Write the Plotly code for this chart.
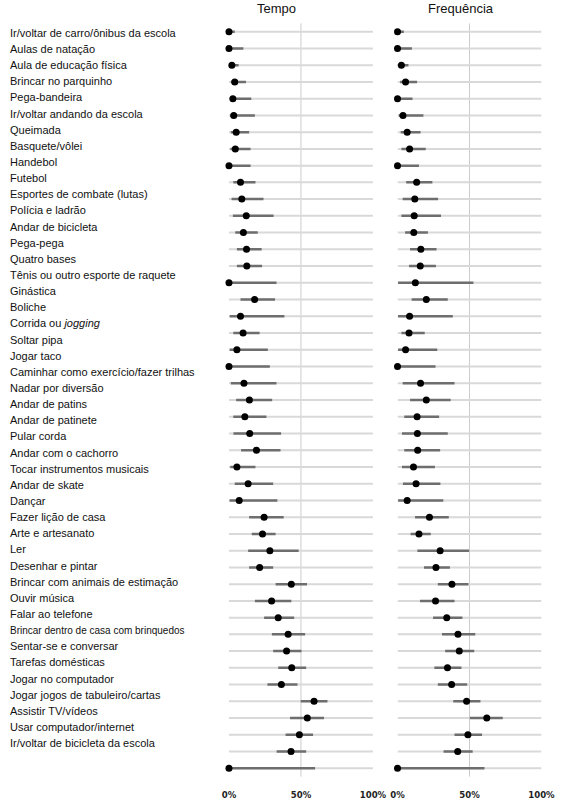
import plotly.graph_objects as go

labels = [
    "Ir/voltar de carro/ônibus da escola", "Aulas de natação", "Aula de educação física",
    "Brincar no parquinho", "Pega-bandeira", "Ir/voltar andando da escola", "Queimada",
    "Basquete/vôlei", "Handebol", "Futebol", "Esportes de combate (lutas)", "Polícia e ladrão",
    "Andar de bicicleta", "Pega-pega", "Quatro bases", "Tênis ou outro esporte de raquete",
    "Ginástica", "Boliche", "Corrida ou jogging", "Soltar pipa", "Jogar taco",
    "Caminhar como exercício/fazer trilhas", "Nadar por diversão", "Andar de patins",
    "Andar de patinete", "Pular corda", "Andar com o cachorro", "Tocar instrumentos musicais",
    "Andar de skate", "Dançar", "Fazer lição de casa", "Arte e artesanato", "Ler",
    "Desenhar e pintar", "Brincar com animais de estimação", "Ouvir música", "Falar ao telefone",
    "Brincar dentro de casa com brinquedos", "Sentar-se e conversar", "Tarefas domésticas",
    "Jogar no computador", "Jogar jogos de tabuleiro/cartas", "Assistir TV/vídeos",
    "Usar computador/internet", "Ir/voltar de bicicleta da escola",
]
# display text for the labels (italics / smaller type as in the source)
label_text = {
    "Corrida ou jogging": "Corrida ou <i>jogging</i>",
    "Brincar dentro de casa com brinquedos": "<span style='font-size:10px'>Brincar dentro de casa com brinquedos</span>",
}

tempo_med = [0, 0, 2, 4, 2.7, 3.3, 5, 4.4, 0, 8, 8.9, 12, 10, 12.2, 12.4, 0, 17.8, 8, 9.8, 5.5, 0,
             10.4, 14.2, 11, 14.4, 19.1, 5.5, 13.3, 7.1, 24.4, 23.3, 28.4, 21.3, 43.3, 29.6, 34.2,
             41.1, 40, 43.6, 36.4, 59.1, 54.4, 48.9, 43.1, 0]
tempo_lo = [0, 0, 0, 1.3, 1, 1, 1.3, 1, 0, 3, 1.8, 2.7, 4.4, 5.5, 5.5, 0, 8, 0.5, 3, 0.5, 0,
            1.3, 5, 3, 3.1, 8.4, 0.9, 4, 0.4, 14, 15.8, 13.3, 14, 32.4, 18, 24.4,
            29.8, 30.7, 34.2, 26.7, 49.8, 42.4, 39.3, 33.1, 0]
tempo_hi = [4, 10, 6.7, 11.8, 15.5, 18, 14, 15, 15, 18.4, 24, 31, 20, 22.7, 23, 33, 32, 38.5, 21.3,
            27, 28.4, 33, 30, 26, 36.2, 35.8, 18.4, 30.7, 33.6, 38, 32.4, 48.4, 30.7, 54.2, 43.3,
            45.3, 52.9, 50.4, 53.6, 47.6, 68.4, 66, 58.4, 53.6, 59.8]

freq_med = [0, 0, 2.7, 5.6, 0, 3.8, 6.7, 8.4, 0, 13.3, 12, 11.6, 11.3, 16.2, 15.8, 12.4, 20, 8.4,
            8, 5.6, 0, 16, 20, 13.6, 13.8, 14, 11.1, 12.9, 6.7, 22.2, 14.9, 29.6, 26.7, 37.8,
            26.4, 34.2, 42, 42.9, 34.7, 37.6, 48, 62, 48.9, 41.8, 0]
freq_lo = [0, 0, 0, 1.8, 0, 0.9, 2.2, 2.7, 0, 6, 3.6, 2.7, 5.3, 8.7, 8, 0.4, 9.8, 0.4, 2.7, 0.4,
           0, 3.6, 8.7, 4.7, 3.1, 4.7, 3.1, 3.8, 0.4, 12.2, 9.1, 13.8, 18.4, 28, 15.6, 24.7,
           30.9, 33.1, 25.6, 28, 38.7, 50.2, 39.6, 32, 0]
freq_hi = [4.4, 10, 7.6, 13.6, 10.4, 18, 16, 19.6, 14.9, 24.2, 28.2, 30.2, 21.1, 27.1, 26.7, 52.7,
           34.9, 38.4, 18.9, 27.6, 26.4, 39.6, 36.9, 28.9, 34.9, 29.6, 26, 29.8, 31.8, 35.6, 23.1,
           49.8, 36.4, 49.3, 39.6, 45.1, 54, 53.3, 44.4, 48.4, 57.6, 73.1, 58.7, 52.2, 60.4]

panel_titles = ["Tempo", "Frequência"]
x_ticks = [0, 50, 100]
x_ticktext = ["0%", "50%", "100%"]

W, H = 568, 800
n = len(labels)

fig = go.Figure()


def seg(lo, hi):
    xs, ys = [], []
    for a, b, lab in zip(lo, hi, labels):
        xs += [a, b, None]
        ys += [lab, lab, None]
    return xs, ys


panels = [("x", "y", tempo_med, tempo_lo, tempo_hi), ("x2", "y", freq_med, freq_lo, freq_hi)]
for xa, ya, med, lo, hi in panels:
    bx, by = seg([0] * n, [100] * n)
    fig.add_trace(go.Scatter(x=bx, y=by, mode="lines", xaxis=xa, yaxis=ya,
                             line=dict(color="#d9d9d9", width=2), hoverinfo="skip", showlegend=False))
    ix, iy = seg(lo, hi)
    fig.add_trace(go.Scatter(x=ix, y=iy, mode="lines", xaxis=xa, yaxis=ya,
                             line=dict(color="#6e6e6e", width=2.5), hoverinfo="skip", showlegend=False))
    fig.add_trace(go.Scatter(x=med, y=labels, mode="markers", xaxis=xa, yaxis=ya,
                             marker=dict(color="black", size=7), cliponaxis=False, showlegend=False))

# label axis (invisible trace only to carry the categories)
fig.add_trace(go.Scatter(x=[0] * n, y=labels, mode="markers", xaxis="x3", yaxis="y3",
                         marker=dict(opacity=0, size=1), hoverinfo="skip", showlegend=False))

row_top, row_bot = 31.7, 768.3
half = (row_bot - row_top) / (n - 1) / 2
ydom = [(H - (row_bot + half)) / H, (H - (row_top - half)) / H]
lab_top, lab_bot = 33.0, 743.3
lhalf = (lab_bot - lab_top) / (n - 1) / 2
ydom3 = [(H - (lab_bot + lhalf)) / H, (H - (lab_top - lhalf)) / H]

xdom1 = [230.5 / W, 380.0 / W]
xdom2 = [405.5 / W, 555.0 / W]

tickfont = dict(family="Liberation Sans Narrow, Arial Narrow, DejaVu Sans Condensed, Liberation Sans",
                size=9.5, color="#222", weight="bold")
for name, dom in (("xaxis", xdom1), ("xaxis2", xdom2)):
    fig.layout[name] = dict(domain=dom, range=[0, 100], anchor="y", tickvals=x_ticks,
                            ticktext=x_ticktext, showgrid=False, zeroline=False, showline=False,
                            ticks="outside", ticklen=9, tickcolor="rgba(0,0,0,0)",
                            tickfont=tickfont, fixedrange=True)

fig.update_layout(
    width=W, height=H,
    margin=dict(l=0, r=0, t=0, b=0),
    paper_bgcolor="white", plot_bgcolor="white",
    yaxis=dict(domain=ydom, type="category", categoryorder="array", categoryarray=labels,
               range=[n - 0.5, -0.5], showticklabels=False, showgrid=False, zeroline=False,
               showline=False, anchor="x"),
    xaxis3=dict(domain=[0, 0.4], visible=False, anchor="y3", range=[0, 1]),
    yaxis3=dict(domain=ydom3, type="category", categoryorder="array", categoryarray=labels,
                range=[n - 0.5, -0.5], anchor="x3", showgrid=False, zeroline=False,
                showline=False, ticks="", ticklabelposition="inside",
                tickvals=labels, ticktext=[label_text.get(l, l) for l in labels],
                tickfont=dict(family="Liberation Sans, Arial, sans-serif", size=11, color="#111")),
    font=dict(family="Liberation Sans, Arial, sans-serif"),
    showlegend=False,
)

for xa in ("x", "x2"):
    fig.add_shape(type="line", xref=xa, yref="y domain", x0=50, x1=50, y0=0, y1=1.0,
                  line=dict(color="#cccccc", width=1), layer="below")

for title, xc in zip(panel_titles, [280.0, 471.0]):
    fig.add_annotation(text=title, x=xc / W, y=1 - 9 / H, xref="paper", yref="paper",
                       showarrow=False, xanchor="center", yanchor="middle", borderpad=0,
                       font=dict(family="Liberation Sans, Arial, sans-serif", size=13, color="#111"))

fig.write_html("out.html")
